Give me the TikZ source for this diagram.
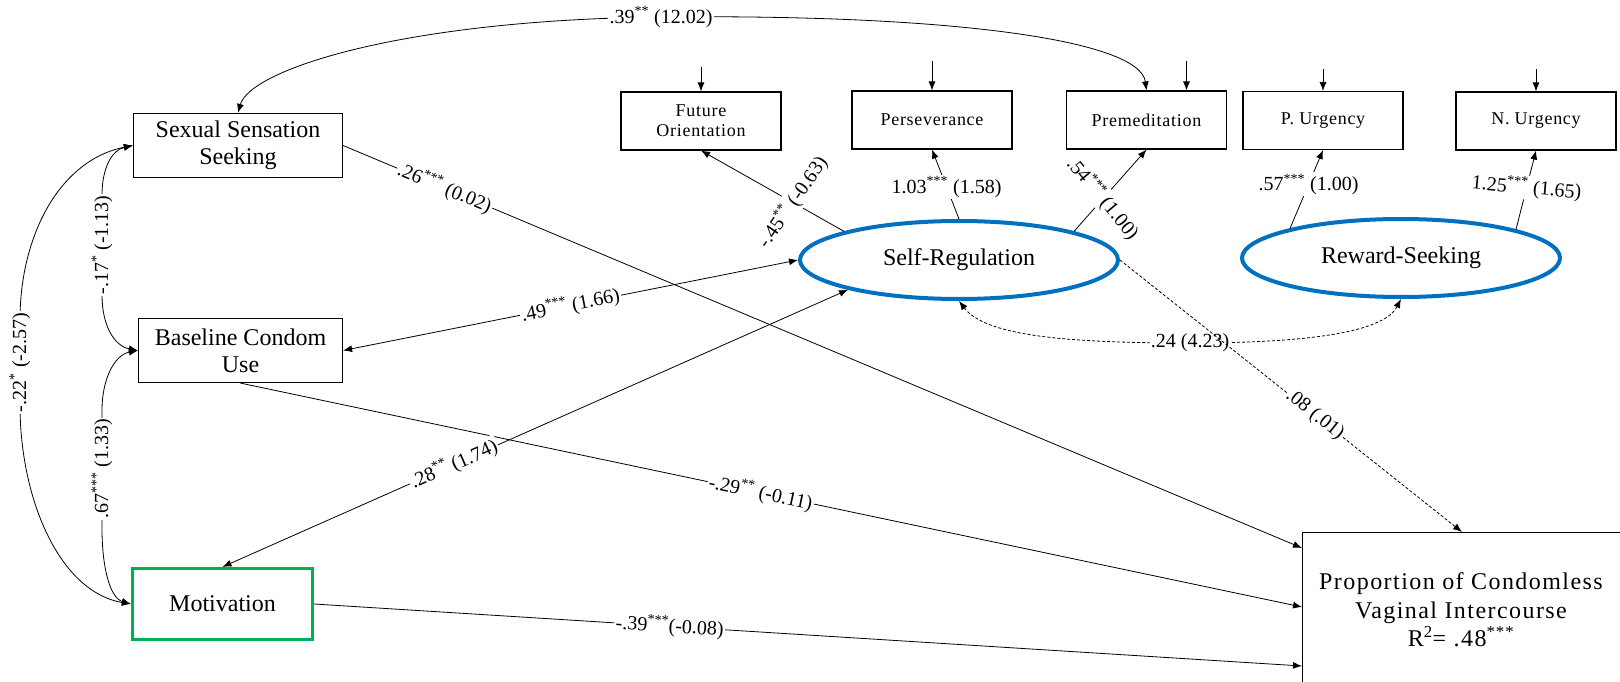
\documentclass[tikz,border=0pt]{standalone}
\usepackage{fontspec}
\setmainfont{Liberation Serif}
\newfontfamily\propfont[LetterSpace=6]{Liberation Serif}
\newfontfamily\smfont[LetterSpace=4]{Liberation Serif}
\usetikzlibrary{arrows.meta,shapes.geometric}
\definecolor{latblue}{HTML}{0070C0}
\definecolor{motgreen}{HTML}{00B050}
\begin{document}
\begin{tikzpicture}[x=1pt,y=-1pt,
  >={Latex[length=9pt,width=7pt]},
  box/.style={draw, line width=1.2pt, align=center, inner sep=0pt, font=\fontsize{24}{27}\selectfont},
  sbox/.style={draw, line width=1.1pt, align=center, inner sep=0pt, minimum width=160pt, minimum height=58pt, font=\smfont\fontsize{18}{20}\selectfont},
  lat/.style={ellipse, draw=latblue, line width=4pt, minimum width=318pt, minimum height=78pt, inner sep=0pt, font=\fontsize{24}{27}\selectfont},
  lab/.style={fill=white, inner sep=1.5pt, font=\fontsize{20}{22}\selectfont},
  conn/.style={line width=0.8pt, ->},
  biconn/.style={line width=0.8pt, <->},
  dconn/.style={dash pattern=on 3pt off 2pt}
]
\fill[white] (0,0) rectangle (1620,682);
\useasboundingbox (0,0) rectangle (1620,682);

% nodes
\node[box, minimum width=209pt, minimum height=64pt] (sss) at (238,145.5) {Sexual Sensation\\Seeking};
\node[box, minimum width=204pt, minimum height=64pt] (bcu) at (240.5,350.5) {Baseline Condom\\Use};
\node[box, draw=motgreen, line width=3.2pt, minimum width=180pt, minimum height=71pt] (mot) at (222.5,604) {Motivation};
\node[draw, line width=1.2pt, anchor=north west, minimum width=360pt, minimum height=200pt] (prop) at (1302,532) {};
\node[font=\propfont\fontsize{24}{28.5}\selectfont, align=center] (proptext) at (1461,610) {Proportion of Condomless\\Vaginal Intercourse\\R\textsuperscript{2}= .48\textsuperscript{***}};

\node[sbox] (fo) at (701,121) {Future\\Orientation};
\node[sbox] (pers) at (932,120) {Perseverance};
\node[sbox] (premed) at (1146.5,120) {Premeditation};
\node[sbox] (pu) at (1323,120.5) {P. Urgency};
\node[sbox] (nu) at (1536,121) {N. Urgency};

\node[lat] (sr) at (959,260) {Self-Regulation};
\node[lat] (rs) at (1401,258) {Reward-Seeking};

% error arrows
\draw[conn] ([yshift=24pt]fo.north) -- (fo.north);
\draw[conn] ([yshift=29pt]pers.north) -- (pers.north);
\draw[conn] ([xshift=40pt,yshift=29pt]premed.north) -- ([xshift=40pt]premed.north);
\draw[conn] ([yshift=22pt]pu.north) -- (pu.north);
\draw[conn] ([yshift=22pt]nu.north) -- (nu.north);

% top covariance
\coordinate (topmid) at (661,17);
\draw[biconn] (sss.north) .. controls (250,70) and (400,20) .. (topmid)
  node[lab] {.39\textsuperscript{**} (12.02)}
  .. controls (950,14) and (1140,40) .. (premed.north);

% left covariances
\coordinate (a1) at (102,195); \coordinate (a2) at (102,295);
\draw[biconn] (sss.west) .. controls (112,150) and (102,168) .. (a1)
  -- node[lab, rotate=90] {-.17\textsuperscript{*} (-1.13)} (a2)
  .. controls (102,325) and (114,346) .. (bcu.west);
\coordinate (b1) at (102,410); \coordinate (b2) at (102,528);
\draw[biconn] (bcu.west) .. controls (114,355) and (102,380) .. (b1)
  -- node[lab, rotate=90] {.67\textsuperscript{***} (1.33)} (b2)
  .. controls (102,568) and (110,598) .. (mot.west);
\coordinate (c1) at (20,320); \coordinate (c2) at (20,405);
\draw[biconn] (sss.west) .. controls (60,160) and (20,235) .. (c1)
  -- node[lab, rotate=90] {-.22\textsuperscript{*} (-2.57)} (c2)
  .. controls (20,500) and (60,592) .. (mot.west);

% loadings
\draw[conn] (sr.166) -- node[lab, pos=0.36, rotate=55] {-.45\textsuperscript{**} (-0.63)} (fo.south);
\draw[conn] (sr.north) -- node[lab, pos=0.46] {1.03\textsuperscript{***} (1.58)} (pers.south);
\draw[conn] (sr.14) -- node[lab, pos=0.4, rotate=-50] {.54\textsuperscript{***} (1.00)} (premed.south);
\draw[conn] (rs.165.5) -- node[lab, pos=0.56] {.57\textsuperscript{***} (1.00)} (pu.south);
\draw[conn] (rs.14) -- node[lab, pos=0.53, rotate=-5] {1.25\textsuperscript{***} (1.65)} (nu.south);

% latent covariance
\coordinate (lowmid) at (1190,343);
\draw[biconn, dconn] (sr.south) .. controls (985,335) and (1060,343) .. (lowmid)
  node[lab, inner sep=1pt] {.24 (4.23)}
  .. controls (1320,343) and (1385,330) .. (rs.south);

% paths
\draw[conn] (sss.east) -- node[lab, pos=0.106, sloped] {.26\textsuperscript{***} (0.02)} ([yshift=-16pt]prop.north west);
\draw[biconn] (bcu.east) -- node[lab, pos=0.5, sloped] {.49\textsuperscript{***} (1.66)} (sr.west);
\draw[conn] (bcu.south) -- node[lab, pos=0.49, sloped] {-.29\textsuperscript{**} (-0.11)} ([yshift=-75pt]prop.north west);
\draw[biconn] (mot.north) -- node[lab, pos=0.37, sloped] {.28\textsuperscript{**} (1.74)} (sr.195);
\draw[conn] (mot.east) -- node[lab, pos=0.36, sloped] {-.39\textsuperscript{***}(-0.08)} ([yshift=-134pt]prop.north west);
\draw[conn, dconn] (sr.east) -- node[lab, pos=0.57, sloped] {.08 (.01)} ([xshift=160pt]prop.north west);
\end{tikzpicture}
\end{document}
